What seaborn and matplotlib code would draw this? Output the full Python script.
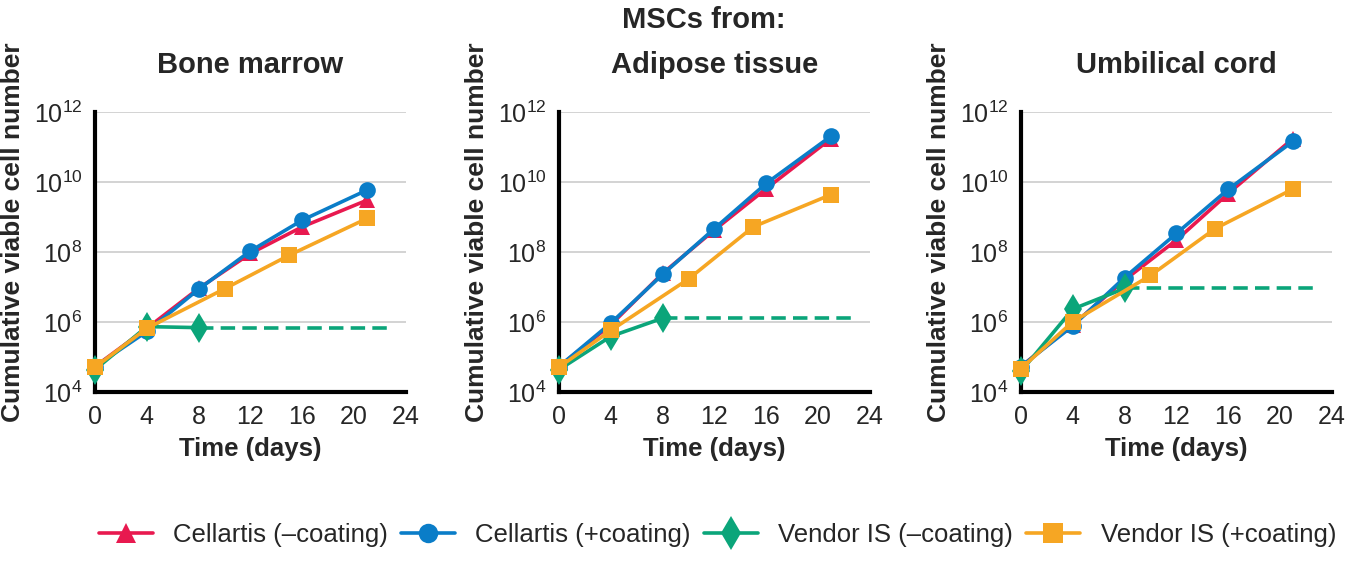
import numpy as np
import pandas as pd
import matplotlib
matplotlib.use("Agg")
import matplotlib.pyplot as plt
import matplotlib.ticker as mticker
from matplotlib.lines import Line2D
import seaborn as sns

# Data (log10 of cumulative viable cell number)
panels = ["Bone marrow", "Adipose tissue", "Umbilical cord"]
series = ["Cellartis (\u2013coating)", "Cellartis (+coating)",
          "Vendor IS (\u2013coating)", "Vendor IS (+coating)"]

days_cellartis = [0, 4, 8, 12, 16, 21]
days_vendor_minus = [0, 4, 8]
days_vendor_plus = [0, 4, 10, 15, 21]
plateau_end_day = 23

bm_cell_minus = [4.73, 5.82, 6.96, 7.96, 8.72, 9.48]
bm_cell_plus = [4.73, 5.73, 6.94, 8.03, 8.91, 9.77]
bm_vend_minus = [4.64, 5.87, 5.84]
bm_vend_plus = [4.71, 5.82, 6.95, 7.91, 8.96]

at_cell_minus = [4.73, 5.92, 7.39, 8.63, 9.81, 11.24]
at_cell_plus = [4.73, 5.97, 7.36, 8.67, 9.96, 11.31]
at_vend_minus = [4.64, 5.59, 6.11]
at_vend_plus = [4.71, 5.76, 7.23, 8.72, 9.64]

uc_cell_minus = [4.73, 5.92, 7.20, 8.34, 9.67, 11.24]
uc_cell_plus = [4.73, 5.89, 7.27, 8.53, 9.79, 11.16]
uc_vend_minus = [4.59, 6.37, 6.96]
uc_vend_plus = [4.67, 6.01, 7.33, 8.67, 9.80]

panel_data = {
    "Bone marrow": [bm_cell_minus, bm_cell_plus, bm_vend_minus, bm_vend_plus],
    "Adipose tissue": [at_cell_minus, at_cell_plus, at_vend_minus, at_vend_plus],
    "Umbilical cord": [uc_cell_minus, uc_cell_plus, uc_vend_minus, uc_vend_plus],
}
series_days = [days_cellartis, days_cellartis, days_vendor_minus, days_vendor_plus]

colors = ["#E8194F", "#0A7DC8", "#0BA57A", "#F6A623"]
markers = ["^", "o", "d", "s"]
msizes = [12, 12, 15, 12]
draw_order = [2, 0, 1, 3]

rows = []
for p in panels:
    for s, d, v in zip(series, series_days, panel_data[p]):
        for x, y in zip(d, v):
            rows.append({"panel": p, "series": s, "day": x, "cells": 10 ** y})
df = pd.DataFrame(rows)

sns.set_style("white")
plt.rcParams["font.family"] = ["Liberation Sans", "DejaVu Sans"]
plt.rcParams["mathtext.fontset"] = "custom"
plt.rcParams["mathtext.rm"] = "Liberation Sans"

fig = plt.figure(figsize=(13.46, 5.8), dpi=100)
lefts = [0.0706, 0.4153, 0.7585]
width = 0.231
bottom, height = 0.324, 0.483

for p, left in zip(panels, lefts):
    ax = fig.add_axes([left, bottom, width, height])
    sub = df[df.panel == p]
    for i in draw_order:
        s = series[i]
        sns.lineplot(data=sub[sub.series == s], x="day", y="cells", ax=ax,
                     color=colors[i], marker=markers[i], markersize=msizes[i],
                     markeredgewidth=0, linewidth=2.6, clip_on=False,
                     estimator=None, legend=False, zorder=3 + i)
        if i == 2:
            last = sub[sub.series == s].iloc[-1]
            ax.plot([last.day, plateau_end_day], [last.cells, last.cells],
                    color=colors[i], linestyle=(0, (4, 2)), linewidth=2.6,
                    zorder=3)
    ax.set_yscale("log")
    ax.set_xlim(0, 24)
    ax.set_ylim(1e4, 1e12)
    ax.set_xticks(range(0, 25, 4))
    ax.set_yticks([10.0 ** k for k in range(4, 13, 2)])
    ax.yaxis.set_minor_locator(mticker.NullLocator())
    ax.yaxis.set_major_formatter(
        mticker.FuncFormatter(lambda v, pos: r"$10^{%d}$" % round(np.log10(v))))
    ax.grid(axis="y", color="#D0D0D0", linewidth=1.3)
    ax.grid(axis="x", visible=False)
    for side in ["top", "right"]:
        ax.spines[side].set_visible(False)
    for side in ["left", "bottom"]:
        ax.spines[side].set_linewidth(3)
        ax.spines[side].set_color("black")
        ax.spines[side].set_zorder(2)
    ax.tick_params(axis="both", which="major", direction="out", length=7,
                   width=2.5, labelsize=18, pad=2)
    ax.set_xlabel("Time (days)", fontsize=18.5, fontweight="bold", labelpad=6)
    ax.set_ylabel("Cumulative viable cell number", fontsize=19,
                  fontweight="bold")
    ax.yaxis.set_label_coords(-0.226, 0.57)
    ax.set_title(p, fontsize=21, fontweight="bold", pad=28)

fig.text(0.523, 0.965, "MSCs from:", ha="center", va="center",
         fontsize=21, fontweight="bold")

handles = [Line2D([0], [0], color=c, marker=m, markersize=ms + 2,
                  markeredgewidth=0, linewidth=2.6)
           for c, m, ms in zip(colors, markers, msizes)]
fig.legend(handles, series, loc="center", bbox_to_anchor=(0.533, 0.077),
           ncol=4, frameon=False, fontsize=18.5, handlelength=2.1,
           columnspacing=0.5, handletextpad=0.8)

fig.savefig("out.png", dpi=100)
